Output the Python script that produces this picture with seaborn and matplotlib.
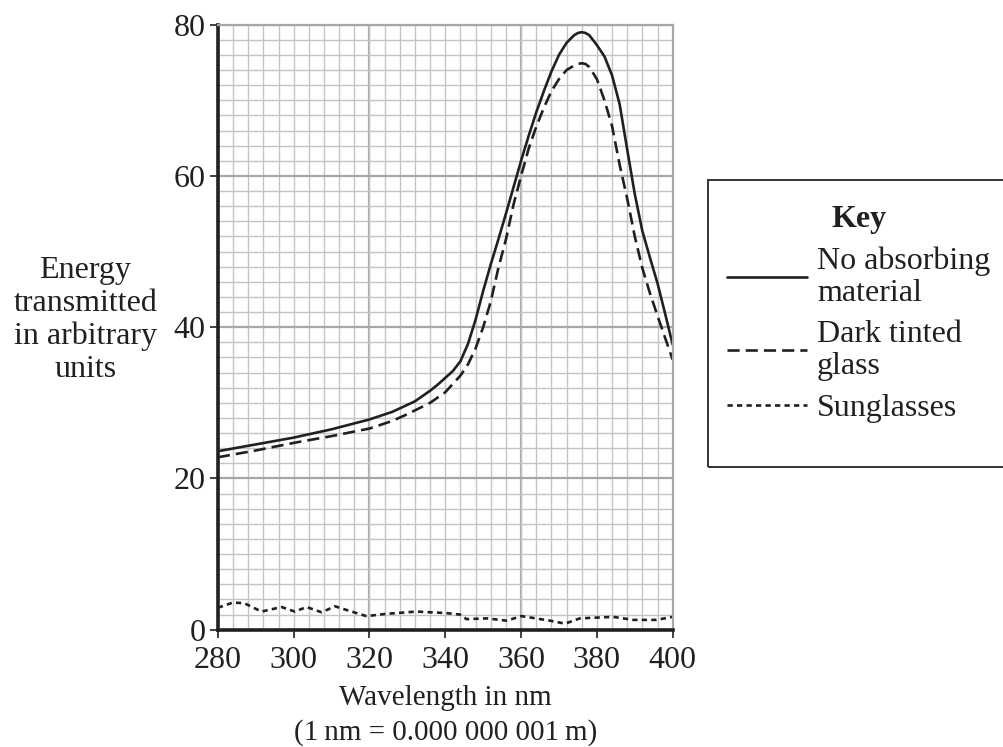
import numpy as np
import pandas as pd
import matplotlib
matplotlib.use("Agg")
import matplotlib.pyplot as plt
from matplotlib.patches import Rectangle
from matplotlib.ticker import MultipleLocator
import seaborn as sns

# values
wl_clear = [280, 290, 300, 310, 320, 326, 332, 336, 338, 340, 342, 344, 346,
            348, 350, 352, 354, 356, 358, 360, 362, 364, 366, 368, 370, 372,
            374, 375, 376, 377, 378, 380, 382, 384, 386, 388, 390, 392, 394,
            396, 398, 400]
energy_clear = [23.6, 24.5, 25.4, 26.5, 27.8, 28.8, 30.2, 31.6, 32.4, 33.3,
                34.2, 35.5, 37.8, 41.0, 44.8, 48.3, 51.6, 55.0, 58.5, 62.0,
                65.3, 68.4, 71.2, 73.8, 76.0, 77.6, 78.6, 78.9, 79.0, 78.9,
                78.6, 77.3, 75.8, 73.3, 69.5, 63.5, 57.6, 52.7, 49.2, 45.8,
                41.8, 37.7]

wl_tinted = [280, 290, 300, 310, 320, 326, 330, 336, 340, 344, 346, 348, 350,
             352, 354, 356, 358, 360, 362, 364, 366, 368, 370, 372, 374, 375,
             376, 377, 378, 380, 382, 384, 386, 388, 390, 392, 394, 396, 398,
             400]
energy_tinted = [22.8, 23.7, 24.7, 25.6, 26.6, 27.6, 28.5, 30.0, 31.4, 33.6,
                 35.1, 37.2, 40.0, 43.4, 47.8, 51.6, 56.2, 60.0, 63.6, 66.5,
                 69.0, 71.2, 72.8, 74.0, 74.6, 74.8, 74.9, 74.8, 74.4, 72.8,
                 70.0, 66.6, 61.5, 57.0, 52.0, 47.8, 44.5, 41.5, 38.6, 35.7]

wl_sun = [280, 284, 287, 291.5, 296.8, 300.3, 303.4, 307.4, 310.9, 314,
          319.2, 324.5, 332.4, 340.3, 343.9, 345.6, 350.9, 356.2, 360.1,
          367.6, 371.6, 375.5, 384.3, 389.6, 395.7, 400]
energy_sun = [2.9, 3.6, 3.5, 2.4, 3.0, 2.4, 3.0, 2.3, 3.1, 2.6, 1.8, 2.1,
              2.4, 2.2, 2.0, 1.4, 1.5, 1.2, 1.8, 1.2, 0.8, 1.5, 1.7, 1.3,
              1.3, 1.7]

series_labels = ["No absorbing\nmaterial", "Dark tinted\nglass", "Sunglasses"]
x_ticks = [280, 300, 320, 340, 360, 380, 400]
y_ticks = [0, 20, 40, 60, 80]

sns.set_theme(style="white")
plt.rcParams["font.family"] = ["Liberation Serif", "DejaVu Serif"]

ink = "#231f20"
minor_grey = "#c4c4c6"
major_grey = "#a7a7a9"

fig = plt.figure(figsize=(10.04, 7.47), dpi=100)
ax = fig.add_axes([0.217, 0.157, 0.453, 0.810])

clear_df = pd.DataFrame({"wl": wl_clear, "energy": energy_clear})
tinted_df = pd.DataFrame({"wl": wl_tinted, "energy": energy_tinted})
sun_df = pd.DataFrame({"wl": wl_sun, "energy": energy_sun})

sns.lineplot(data=clear_df, x="wl", y="energy", ax=ax, color=ink,
             linewidth=1.9, label=series_labels[0])
sns.lineplot(data=tinted_df, x="wl", y="energy", ax=ax, color=ink,
             linewidth=1.9, label=series_labels[1])
sns.lineplot(data=sun_df, x="wl", y="energy", ax=ax, color=ink,
             linewidth=1.9, label=series_labels[2])
ax.lines[1].set_dashes([4.6, 2.3])
ax.lines[2].set_dashes([2.0, 1.6])
for ln in ax.lines:
    ln.set_solid_joinstyle("round")

ax.set_xlim(280, 400)
ax.set_ylim(0, 80)
ax.set_xticks(x_ticks)
ax.set_yticks(y_ticks)
ax.xaxis.set_minor_locator(MultipleLocator(4))
ax.yaxis.set_minor_locator(MultipleLocator(2))
ax.xaxis.remove_overlapping_locs = False

ax.set_axisbelow(True)
ax.grid(which="minor", color=minor_grey, linewidth=1.0)
ax.grid(which="major", axis="y", color=major_grey, linewidth=1.6)
ax.grid(which="major", axis="x", visible=False)
for xv in np.arange(320, 400, 40):
    ax.axvline(xv, color=major_grey, linewidth=1.6, zorder=0.5)

for side in ["top", "right"]:
    ax.spines[side].set_color(major_grey)
    ax.spines[side].set_linewidth(1.6)
for side in ["left", "bottom"]:
    ax.spines[side].set_color(ink)
    ax.spines[side].set_linewidth(2.6)

ax.tick_params(which="major", direction="out", length=6, width=1.2,
               color=ink, labelsize=23, labelcolor=ink,
               bottom=True, left=True)
ax.tick_params(axis="x", which="major", pad=6)
ax.tick_params(axis="y", which="major", pad=3)
ax.tick_params(which="minor", length=0)

ax.set_xlabel("Wavelength in nm\n(1\u2009nm = 0.000 000 001\u2009m)",
              fontsize=21, color=ink, linespacing=1.4, labelpad=7)
ax.set_ylabel("")
fig.text(0.085, 0.572, "Energy\ntransmitted\nin arbitrary\nunits",
         ha="center", va="center", fontsize=23, color=ink, linespacing=1.17)

# key box, running off the right edge like the original
fig.patches.append(Rectangle((0.705, 0.375), 0.32, 0.384,
                             transform=fig.transFigure, fill=False,
                             edgecolor="#333333", linewidth=1.4))

handles, labels = ax.get_legend_handles_labels()
ax.get_legend().remove()
leg = fig.legend(handles, labels, loc="upper left",
                 bbox_to_anchor=(0.705, 0.751), fontsize=23,
                 title="Key", title_fontproperties={"weight": "bold", "size": 23},
                 frameon=False,
                 handlelength=2.5, handletextpad=0.32, labelspacing=0.4,
                 borderpad=0.6, borderaxespad=0)
for t in leg.get_texts():
    t.set_color(ink)
    t.set_linespacing(1.1)
leg.get_title().set_color(ink)

fig.savefig("out.png", dpi=100)
